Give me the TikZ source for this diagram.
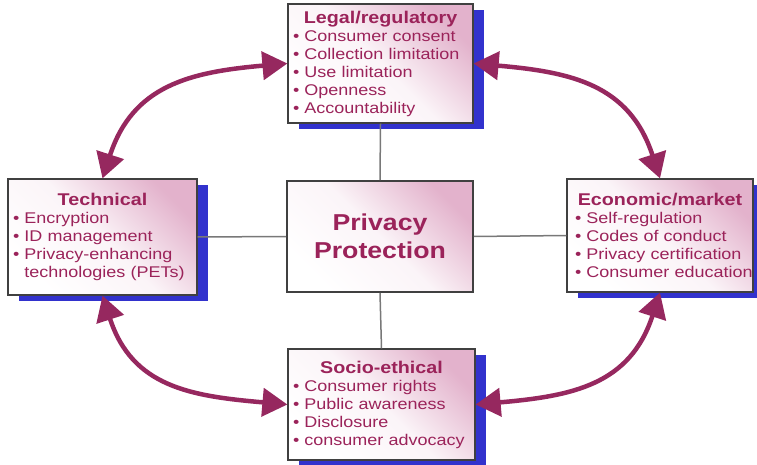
\documentclass[tikz,border=0pt]{standalone}
\usepackage{fontspec}
\newfontfamily\diagfont[FakeStretch=1.16]{Liberation Sans}
\usetikzlibrary{arrows.meta}
\usetikzlibrary{shadows}
\definecolor{textMaroon}{RGB}{155,35,90}
\definecolor{arcMaroon}{RGB}{150,40,95}
\definecolor{shadowBlue}{RGB}{50,50,205}
\definecolor{boxPink}{RGB}{222,165,195}
\definecolor{linkGray}{RGB}{120,120,120}

\newcommand\topictitle[1]{{\centering\bfseries\fontsize{17}{20}\selectfont #1\par}}
\newcommand\itm{\textbullet\ }
\newcommand\inditm[1]{\hspace*{3pt}\mbox{\itm #1}}

\tikzset{
  topic/.style={draw=black!75, line width=1.2pt, shade,
    top color=boxPink!85, bottom color=white, middle color=boxPink!12,
    shading angle=-45, text=textMaroon, align=left,
    inner xsep=5pt, inner ysep=0pt,
    font=\diagfont\fontsize{15.5}{18}\selectfont,
    drop shadow={shadow xshift=11pt, shadow yshift=-6pt, fill=shadowBlue, opacity=1}},
  core/.style={draw=black!75, line width=1.6pt, shade,
    top color=boxPink!85, bottom color=white, middle color=boxPink!12,
    shading angle=-45, text=textMaroon, align=center,
    font=\diagfont\bfseries\fontsize{23}{28}\selectfont},
  link/.style={linkGray, line width=1.5pt},
  arc/.style={arcMaroon, line width=4.5pt, looseness=1.15,
    {Triangle[length=25pt,width=28pt]}-{Triangle[length=25pt,width=28pt]}}
}

\begin{document}
\begin{tikzpicture}[x=1pt,y=1pt]
\useasboundingbox (0,0) rectangle (757,464);

% the five boxes
\node [core, minimum width=186pt, minimum height=111pt] (privacy) at (380,227.5)
  {Privacy\\Protection};

\node [topic, minimum width=185pt, minimum height=119pt, text width=175pt] (legal) at (380.5,400.5)
  {\topictitle{Legal/regulatory}
   \itm Consumer consent\\
   \itm Collection limitation\\
   \itm Use limitation\\
   \itm Openness\\
   \itm Accountability};

\node [topic, minimum width=189pt, minimum height=116pt, text width=179pt] (technical) at (102.5,227)
  {\topictitle{Technical}
   \itm Encryption\\
   \itm ID management\\
   \itm Privacy-enhancing\\
   \phantom{\itm}technologies (PETs)};

\node [topic, minimum width=186pt, minimum height=113pt, text width=176pt] (economic) at (660,228.5)
  {\topictitle{Economic/market}
   \inditm{Self-regulation}\\
   \inditm{Codes of conduct}\\
   \inditm{Privacy certification}\\
   \inditm{Consumer education}};

\node [topic, minimum width=187pt, minimum height=111pt, text width=177pt] (socio) at (381.5,59.5)
  {\topictitle{Socio-ethical}
   \itm Consumer rights\\
   \itm Public awareness\\
   \itm Disclosure\\
   \itm consumer advocacy};

% grey links to the centre
\draw [link] (legal.south) -- (privacy.north);
\draw [link] (socio.north) -- (privacy.south);
\draw [link] (technical.east) -- (privacy.west);
\draw [link] (economic.west) -- (privacy.east);

% curved double arrows
\draw [arc] (technical.north) to[out=72, in=185] (legal.west);
\draw [arc] (economic.north) to[out=108, in=-5] (legal.east);
\draw [arc] (technical.south) to[out=-72, in=175] (socio.west);
\draw [arc] (economic.south) to[out=-108, in=5] (socio.east);
\end{tikzpicture}
\end{document}
